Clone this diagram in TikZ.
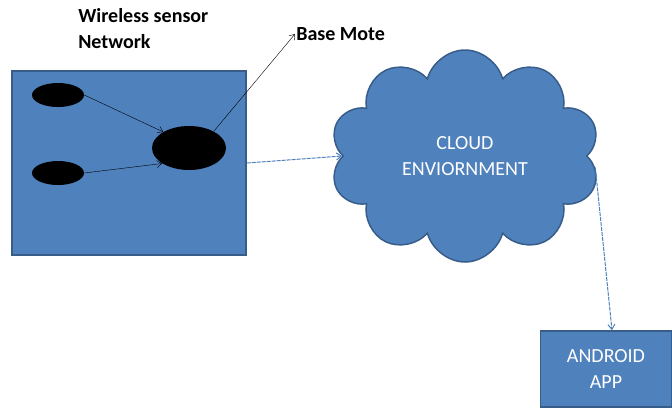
\documentclass[tikz,border=0pt]{standalone}
\usepackage{fontspec}
\setmainfont{Carlito}
\usetikzlibrary{arrows.meta, positioning, shapes.geometric, shapes.symbols}
\definecolor{boxblue}{HTML}{4F81BD}
\definecolor{edgeblue}{HTML}{385D8A}
\begin{document}
\begin{tikzpicture}[
            x = 1pt, y = -1pt, % pixel grid of the picture
            > = {Straight Barb[length=5pt, width=7pt]}, % arrow head style
            semithick, % line style
            font = \fontsize{20}{26}\selectfont
        ]
\tikzstyle{bluebox}=[
			shape = rectangle,
			draw = edgeblue,
			line width = 1.5pt,
			fill = boxblue,
			text = white,
			align = center,
			inner sep = 0pt
			]
\tikzstyle{mote}=[
			shape = ellipse,
			fill = black,
			inner sep = 0pt
			]
\tikzstyle{bluelink}=[
			->,
			draw = boxblue,
			line width = 1pt,
			dash pattern = on 4pt off 1pt
			]
\useasboundingbox (0,0) rectangle (672,408);
\node[bluebox, minimum width = 234pt, minimum height = 184pt](wsn) at (129,163){};
\node[mote, minimum width = 52pt, minimum height = 24pt](mote1) at (58,95){};
\node[mote, minimum width = 52pt, minimum height = 24pt](mote2) at (58,173){};
\node[mote, minimum width = 74pt, minimum height = 44pt](base) at (189,148){};
\node[anchor = north west, align = left, inner sep = 0pt, font = \fontsize{20}{26}\selectfont\bfseries](wsnlabel) at (78,8){Wireless sensor\\Network};
\node[anchor = west, inner sep = 1pt, font = \fontsize{20}{26}\selectfont\bfseries](baselabel) at (295,34){Base Mote};
\node[cloud, cloud puffs = 10, cloud ignores aspect, draw = edgeblue, line width = 1.5pt, fill = boxblue,
			text = white, align = center, minimum width = 270pt, minimum height = 212pt](cloud) at (465,156){CLOUD\\ENVIORNMENT};
\node[bluebox, minimum width = 131pt, minimum height = 76pt](android) at (606,369){ANDROID\\APP};
\draw[->, thin] (mote1.east) -- (base.148);
\draw[->, thin] (mote2.east) -- (base.210);
\draw[->, thin] (base.34) -- (baselabel.west);
\draw[bluelink] (wsn.east) -- (cloud.west);
\draw[bluelink] (cloud.-5) -- ([xshift = 6pt]android.north);
\end{tikzpicture}
\end{document}
